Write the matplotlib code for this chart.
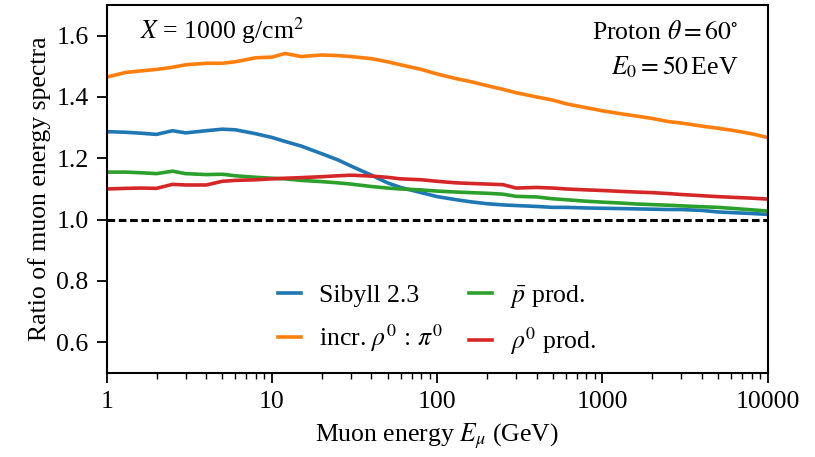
import matplotlib
matplotlib.use("Agg")
import matplotlib.pyplot as plt
from matplotlib.ticker import FixedLocator, FixedFormatter

# muon energy grid (GeV) and ratios
energy = [1, 1.3, 1.6, 2, 2.5, 3, 4, 5, 6, 8, 10, 12, 15, 20, 25, 30, 40, 50, 60, 80,
          100, 130, 160, 200, 250, 300, 400, 500, 600, 800, 1000, 1300, 1600, 2000,
          2500, 3000, 4000, 5000, 6000, 8000, 10000]

sibyll = [1.287, 1.285, 1.282, 1.278, 1.290, 1.283, 1.290, 1.295, 1.293, 1.280,
          1.268, 1.255, 1.240, 1.215, 1.195, 1.175, 1.145, 1.120, 1.105, 1.088,
          1.075, 1.065, 1.058, 1.052, 1.048, 1.046, 1.043, 1.040, 1.040, 1.038,
          1.037, 1.036, 1.035, 1.034, 1.033, 1.033, 1.030, 1.025, 1.023, 1.020, 1.017]

rho_pi = [1.465, 1.480, 1.485, 1.490, 1.497, 1.505, 1.510, 1.510, 1.515, 1.528,
          1.530, 1.542, 1.532, 1.537, 1.535, 1.532, 1.525, 1.515, 1.505, 1.490,
          1.475, 1.460, 1.450, 1.437, 1.425, 1.414, 1.400, 1.390, 1.378, 1.365,
          1.355, 1.345, 1.338, 1.330, 1.320, 1.315, 1.305, 1.298, 1.292, 1.280, 1.268]

pbar = [1.155, 1.155, 1.153, 1.150, 1.158, 1.150, 1.147, 1.148, 1.143, 1.138,
        1.135, 1.133, 1.128, 1.124, 1.120, 1.116, 1.108, 1.103, 1.100, 1.097,
        1.093, 1.090, 1.088, 1.086, 1.083, 1.076, 1.074, 1.068, 1.065, 1.060,
        1.057, 1.054, 1.051, 1.049, 1.047, 1.045, 1.042, 1.040, 1.037, 1.032, 1.028]

rho0 = [1.100, 1.102, 1.103, 1.102, 1.115, 1.113, 1.113, 1.125, 1.128, 1.130,
        1.133, 1.135, 1.137, 1.140, 1.143, 1.145, 1.142, 1.138, 1.133, 1.130,
        1.125, 1.120, 1.118, 1.116, 1.114, 1.103, 1.105, 1.103, 1.100, 1.097,
        1.095, 1.092, 1.090, 1.088, 1.085, 1.082, 1.078, 1.075, 1.073, 1.070, 1.067]

xticks = [1, 10, 100, 1000, 10000]
xtick_labels = ["1", "10", "100", "1000", "10000"]

plt.rcParams["font.family"] = "serif"
plt.rcParams["font.serif"] = ["Liberation Serif", "DejaVu Serif"]
plt.rcParams["mathtext.fontset"] = "stix"
plt.rcParams["font.size"] = 18.5

fig = plt.figure(figsize=(8.15, 4.57), dpi=100)
ax = fig.add_axes([0.131, 0.184, 0.811, 0.805])

ax.plot(energy, sibyll, color="#1f77b4", lw=2.6, label="Sibyll 2.3")
ax.plot(energy, rho_pi, color="#ff7f0e", lw=2.6, label=r"incr. $\rho^0\,:\,\pi^0$")
ax.plot(energy, pbar, color="#2ca02c", lw=2.6, label=r"$\bar{p}$ prod.")
ax.plot(energy, rho0, color="#d62728", lw=2.6, label=r"$\rho^0$ prod.")
ax.axhline(1.0, color="black", lw=2.2, ls=(0, (2.5, 1.2)))

ax.set_xscale("log")
ax.set_xlim(1, 10000)
ax.set_ylim(0.5, 1.7)
ax.xaxis.set_major_locator(FixedLocator(xticks))
ax.xaxis.set_major_formatter(FixedFormatter(xtick_labels))
ax.set_yticks([0.6, 0.8, 1.0, 1.2, 1.4, 1.6])
ax.tick_params(which="major", length=7, width=1.3, pad=6)
ax.tick_params(which="minor", length=4, width=1.0)
for s in ax.spines.values():
    s.set_linewidth(1.5)

ax.set_xlabel(r"Muon energy $E_\mu$ (GeV)", labelpad=6)
ax.set_ylabel("Ratio of muon energy spectra")

ax.text(0.05, 0.93, r"$X$ = 1000 g/cm$^2$", transform=ax.transAxes, va="center", ha="left")
ax.text(0.955, 0.925, r"Proton $\theta = 60^{\circ}$", transform=ax.transAxes, va="center", ha="right")
ax.text(0.955, 0.83, r"$E_0 = 50\,$EeV", transform=ax.transAxes, va="center", ha="right")

ax.legend(loc="lower center", bbox_to_anchor=(0.5, -0.02), ncol=2, frameon=False,
          handlelength=0.9, handletextpad=0.7, columnspacing=1.0, labelspacing=0.6,
          fontsize=18.5)

fig.savefig("out.png", dpi=100)
